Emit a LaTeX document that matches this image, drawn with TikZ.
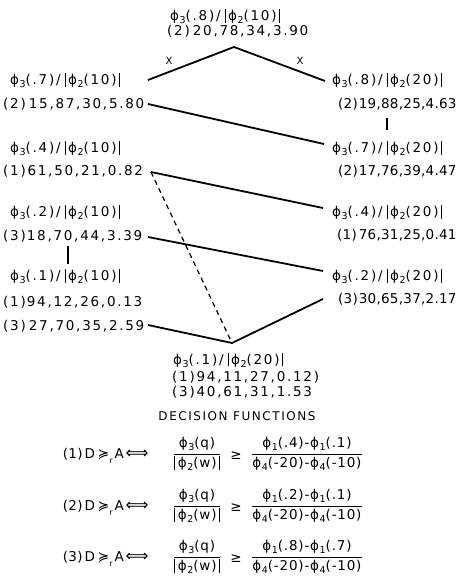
\documentclass[tikz,border=0pt]{standalone}
\usepackage{fontspec}
\setmainfont{DejaVu Sans}[LetterSpace=13]
\newcommand\ph[1]{ϕ\kern0.5pt\raisebox{-0.45ex}{\fontsize{9.5}{9.5}\selectfont #1}}
\newcommand\bars[2][3pt]{\vrule height 11.5pt depth #1 width 1pt\kern2.5pt #2\kern2pt\vrule height 11.5pt depth #1 width 1pt}
\newcommand\rat[3][3pt]{\ph3(#2)/\kern4pt\bars[#1]{\ph2(#3)}}
\tikzset{
  txt/.style={inner sep=0pt, font=\fontsize{13.5}{15}\selectfont},
  tight/.style={font=\fontsize{13.5}{15}\selectfont\addfontfeatures{LetterSpace=6}},
  tighter/.style={font=\fontsize{13.5}{15}\selectfont\addfontfeatures{LetterSpace=2}},
  conn/.style={line width=1.8pt},
  dconn/.style={line width=1.2pt, dash pattern=on 5pt off 4pt},
}
\begin{document}
\begin{tikzpicture}[x=1pt,y=-1pt]
\useasboundingbox (0,0) rectangle (461,581);
% top
\node[txt,anchor=base west] (t1) at (170,20) {\rat{.8}{10}};
\node[txt,anchor=base west] (t2) at (167,35) {(2)\kern3pt 20,78,34,3.90};
% left column
\node[txt,anchor=base west] (l1) at (10,84) {\rat{.7}{10}};
\node[txt,anchor=base west] (l2) at (3,108) {(2)\kern3pt 15,87,30,5.80};
\node[txt,anchor=base west] (l3) at (10,152) {\rat{.4}{10}};
\node[txt,anchor=base west] (l4) at (3,175) {(1)61,50,21,0.82};
\node[txt,anchor=base west] (l5) at (10,216) {\rat{.2}{10}};
\node[txt,anchor=base west] (l6) at (3,240) {(3)\kern1pt 18,70,44,3.39};
\node[txt,anchor=base west] (l7) at (10,280) {\rat{.1}{10}};
\node[txt,anchor=base west] (l8) at (3,306) {(1)\kern1pt 94,12,26,0.13};
\node[txt,anchor=base west] (l9) at (3,330) {(3)\kern3pt 27,70,35,2.59};
% right column
\node[txt,anchor=base west] (r1) at (332,84) {\rat{.8}{20}};
\node[txt,tighter,anchor=base west] (r2) at (338,108) {(2)\kern1pt 19,88,25,4.63};
\node[txt,anchor=base west] (r3) at (332,152) {\rat{.7}{20}};
\node[txt,tighter,anchor=base west] (r4) at (338,175) {(2)\kern1pt 17,76,39,4.47};
\node[txt,anchor=base west] (r5) at (332,216) {\rat{.4}{20}};
\node[txt,tighter,anchor=base west] (r6) at (337,239) {(1)\kern2pt 76,31,25,0.41};
\node[txt,anchor=base west] (r7) at (332,280) {\rat{.2}{20}};
\node[txt,tighter,anchor=base west] (r8) at (338,303) {(3)\kern1pt 30,65,37,2.17};
% bottom
\node[txt,anchor=base west] (b1) at (173,364) {\rat[1.5pt]{.1}{20}};
\node[txt,anchor=base west] (b2) at (172,381) {(1)94,11,27,0.12)};
\node[txt,anchor=base west] (b3) at (172,396) {(3)40,61,31,1.53};
% X labels
\node[txt,font=\fontsize{10}{10}\selectfont] (x1) at (169,61) {X};
\node[txt,font=\fontsize{10}{10}\selectfont] (x2) at (300,61) {X};
% connector points
\coordinate (apex) at (234,47);
\coordinate (a1) at (148,80);
\coordinate (a2) at (325,81);
\coordinate (p2) at (148,104);
\coordinate (q3) at (324,144);
\coordinate (p4) at (151,172);
\coordinate (q5) at (323,208);
\coordinate (p6) at (148,237);
\coordinate (q7) at (323,271);
\coordinate (p9) at (148,325);
\coordinate (bot) at (232,343);
\coordinate (q8) at (323,299);
\coordinate (v1) at (68,246);
\coordinate (v2) at (68,264);
\coordinate (w1) at (387,118);
\coordinate (w2) at (387,130);
\draw[conn] (a1) -- (apex) -- (a2);
\draw[conn] (p2) -- (q3);
\draw[conn] (p4) -- (q5);
\draw[dconn] (p4) -- (bot);
\draw[conn] (p6) -- (q7);
\draw[conn] (p9) -- (bot) -- (q8);
\draw[conn] (v1) -- (v2);
\draw[conn] (w1) -- (w2);
% decision functions
\node[txt,anchor=base,font=\fontsize{12}{12}\selectfont] (df) at (237,420) {DECISION FUNCTIONS};
\foreach \n/\y/\a/\b in {1/454/.4/.1, 2/506/.2/.1, 3/557/.8/.7}{
  \node[txt,tighter,anchor=east] (lab\n) at (124,\y+2) {(\n)\kern2pt D\kern3pt ≽\raisebox{-0.6ex}{\fontsize{8}{8}\selectfont r}\kern2pt A};
  \node[txt,font=\fontsize{16}{16}\selectfont] (arr\n) at (137,\y) {⟺};
  \node[txt,tight] (lf\n) at (197,\y) {$\displaystyle\frac{\mbox{\ph3(q)}}{\mbox{\bars{\ph2(w)}}}$};
  \node[txt] (ge\n) at (236,\y+2) {≥};
  \node[txt,tight] (rf\n) at (307,\y) {$\displaystyle\frac{\mbox{\ph1(\a)-\ph1(\b)}}{\mbox{\ph4(-20)-\ph4(-10)}}$};
}
\end{tikzpicture}
\end{document}
